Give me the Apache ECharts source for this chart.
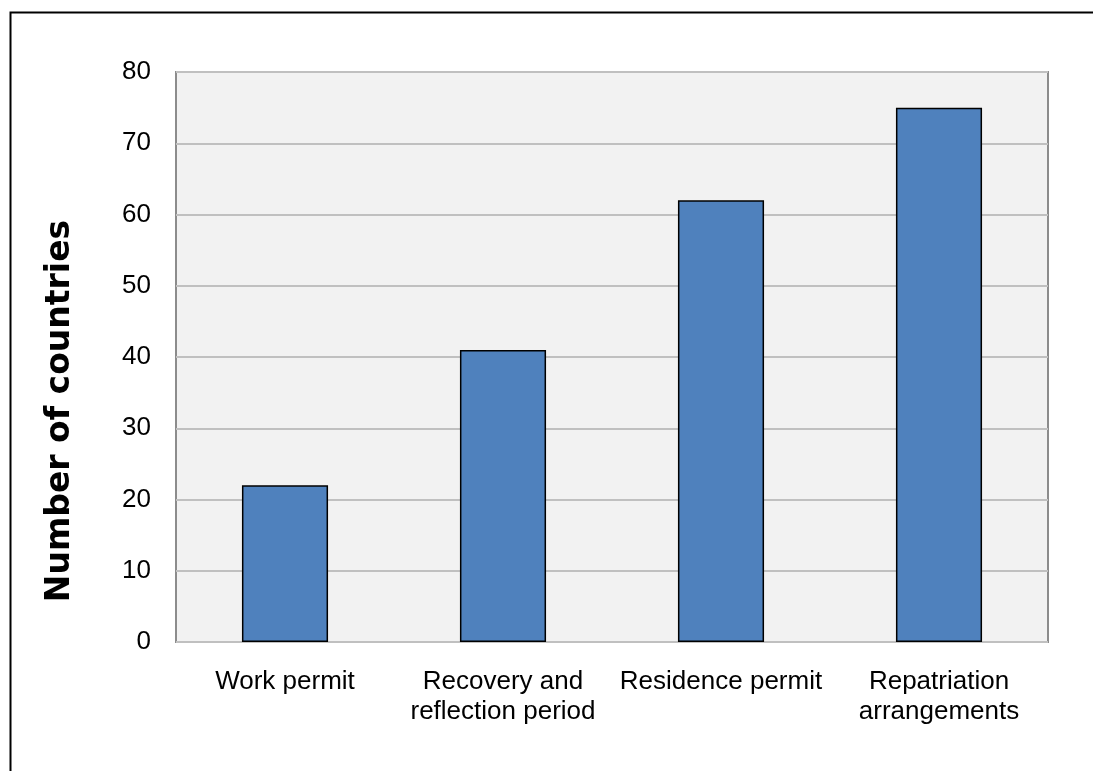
<!DOCTYPE html>
<html>
<head>
<meta charset="utf-8">
<script src="https://cdn.jsdelivr.net/npm/echarts@6/dist/echarts.min.js"></script>
<style>
  html, body { margin: 0; padding: 0; background: #ffffff; }
  #chart { width: 1093px; height: 771px; }
</style>
</head>
<body>
<div id="chart"></div>
<script>
// Measures available to trafficking victims, by number of countries
const categories = [
  'Work permit',
  'Recovery and\nreflection period',
  'Residence permit',
  'Repatriation\narrangements'
];
const countries = [22, 41, 62, 75];
const yTicks = { min: 0, max: 80, interval: 10 };
const yTitle = 'Number of countries';

const labelFont = '"Liberation Sans", Arial, sans-serif';

const chart = echarts.init(document.getElementById('chart'), null, { renderer: 'canvas' });

chart.setOption({
  backgroundColor: '#ffffff',
  animation: false,
  grid: {
    left: 176,
    top: 72,
    right: 45,
    bottom: 129,
    show: true,
    backgroundColor: '#f2f2f2',
    borderColor: '#8c8c8c',
    borderWidth: 2
  },
  xAxis: {
    type: 'category',
    data: categories,
    axisLine: { show: false },
    axisTick: { show: false },
    axisLabel: {
      color: '#000000',
      fontFamily: labelFont,
      fontSize: 26,
      lineHeight: 30,
      margin: 25,
      interval: 0
    }
  },
  yAxis: {
    type: 'value',
    min: yTicks.min,
    max: yTicks.max,
    interval: yTicks.interval,
    axisLine: { show: false },
    axisTick: { show: false },
    axisLabel: {
      color: '#000000',
      fontFamily: labelFont,
      fontSize: 26,
      margin: 25
    },
    splitLine: { lineStyle: { color: '#c0c0c0', width: 2 } }
  },
  series: [{
    type: 'bar',
    data: countries,
    barWidth: '39.5%',
    itemStyle: {
      color: '#4f81bd',
      borderColor: '#000000',
      borderWidth: 1.5
    }
  }],
  graphic: [
    {
      type: 'rect',
      silent: true,
      shape: { x: 10.5, y: 12.5, width: 1200, height: 900 },
      style: { fill: 'none', stroke: '#000000', lineWidth: 2 }
    },
    {
      type: 'text',
      silent: true,
      x: 60,
      y: 411,
      rotation: Math.PI / 2,
      style: {
        text: yTitle,
        fill: '#000000',
        font: 'bold 33px "DejaVu Sans", sans-serif',
        align: 'center',
        verticalAlign: 'middle'
      }
    }
  ]
});
</script>
</body>
</html>
